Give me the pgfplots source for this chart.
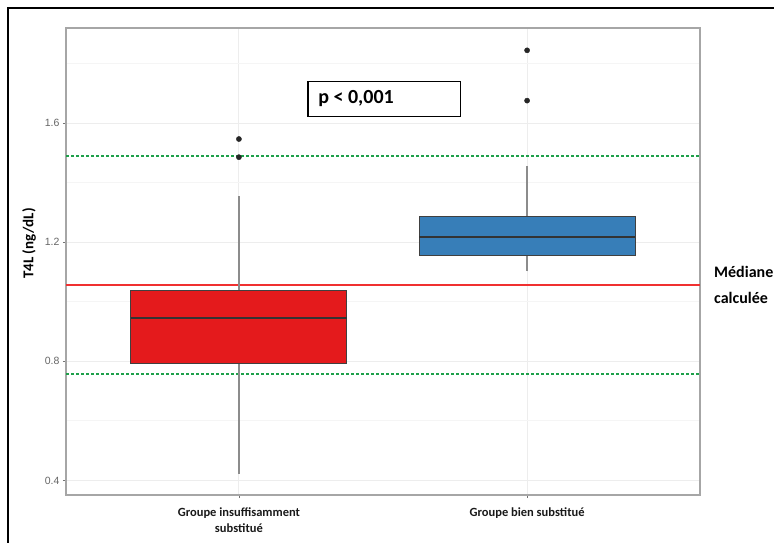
\documentclass[border=0pt]{standalone}
\usepackage{pgfplots}
\pgfplotsset{compat=1.18}
\usepgfplotslibrary{statistics}
\usepackage{fontspec}
\setmainfont{Carlito}
\newfontfamily\arialfont{Liberation Sans}
\definecolor{boxred}{HTML}{E41A1C}
\definecolor{boxblue}{HTML}{377EB8}
\definecolor{linegreen}{HTML}{1EA04A}
\definecolor{linered}{HTML}{F03030}
\begin{document}
\begin{tikzpicture}[x=1pt,y=1pt]
\useasboundingbox (0,0) rectangle (774,542);
\draw[line width=2.2pt] (8,-5) -- (8,534) -- (780,534);
\begin{axis}[
  at={(66pt,47pt)}, anchor=south west,
  scale only axis, width=634pt, height=467pt,
  xmin=0.4, xmax=2.6, ymin=0.351, ymax=1.92,
  xtick={1,2},
  xticklabels={{Groupe insuffisamment\\substitué},{Groupe bien substitué}},
  xticklabel style={align=center, font=\fontsize{12.5}{16}\selectfont\bfseries, text=black!90, yshift=-6.5pt},
  ytick={0.4,0.8,1.2,1.6},
  yticklabels={0.4,0.8,1.2,1.6},
  minor ytick={0.6,1.0,1.4,1.8},
  minor tick length=0pt,
  yticklabel style={font=\fontsize{10.5}{12}\selectfont\arialfont, text=black!60},
  grid=both,
  major grid style={draw=black!7, line width=1pt},
  minor grid style={draw=black!4, line width=0.8pt},
  axis line style={draw=black!35, line width=1.6pt},
  tick style={draw=black!55, line width=0.8pt},
  tick align=outside, tick pos=left,
  major tick length=3pt,
  boxplot/draw direction=y,
  clip=true,
]
% reference lines
\addplot[color=linered, line width=1.6pt, mark=none] coordinates {(0.4,1.056) (2.6,1.056)};
\addplot[color=linegreen, line width=1.5pt, mark=none, dash pattern=on 3pt off 2pt] coordinates {(0.4,1.490) (2.6,1.490)};
\addplot[color=linegreen, line width=1.8pt, mark=none, dash pattern=on 3pt off 2pt] coordinates {(0.4,0.758) (2.6,0.758)};
% boxplots
\addplot[
  boxplot prepared={lower whisker=0.423, lower quartile=0.792, median=0.946,
    upper quartile=1.037, upper whisker=1.354, draw position=1,
    box extend=0.75, whisker extend=0},
  fill=boxred, draw=black!75, line width=1pt,
  boxplot/every whisker/.style={draw=black!45, line width=1.6pt},
  boxplot/every median/.style={draw=black!80, line width=2pt},
] coordinates {};
\addplot[
  boxplot prepared={lower whisker=1.102, lower quartile=1.157, median=1.218,
    upper quartile=1.286, upper whisker=1.456, draw position=2,
    box extend=0.75, whisker extend=0},
  fill=boxblue, draw=black!75, line width=1pt,
  boxplot/every whisker/.style={draw=black!45, line width=1.6pt},
  boxplot/every median/.style={draw=black!80, line width=2pt},
] coordinates {};
% outliers
\addplot[only marks, mark=*, mark size=2.6pt, black!85] coordinates {
  (1,1.547) (1,1.486) (2,1.845) (2,1.676)};
% p-value box
\draw[line width=1.2pt, fill=white] (axis cs:1.24,1.624) rectangle (axis cs:1.77,1.741);
\node[anchor=west, font=\fontsize{20}{22}\selectfont\bfseries, inner sep=0pt]
  at (axis cs:1.275,1.6825) {p < 0,001};
\end{axis}
\node[rotate=90, font=\fontsize{15}{17}\selectfont\bfseries] at (29,298.5) {T4L (ng/dL)};
\node[anchor=west, align=left, font=\fontsize{16}{26}\selectfont\bfseries, inner sep=0pt] at (714,257) {Médiane\\calculée};
\end{tikzpicture}
\end{document}
